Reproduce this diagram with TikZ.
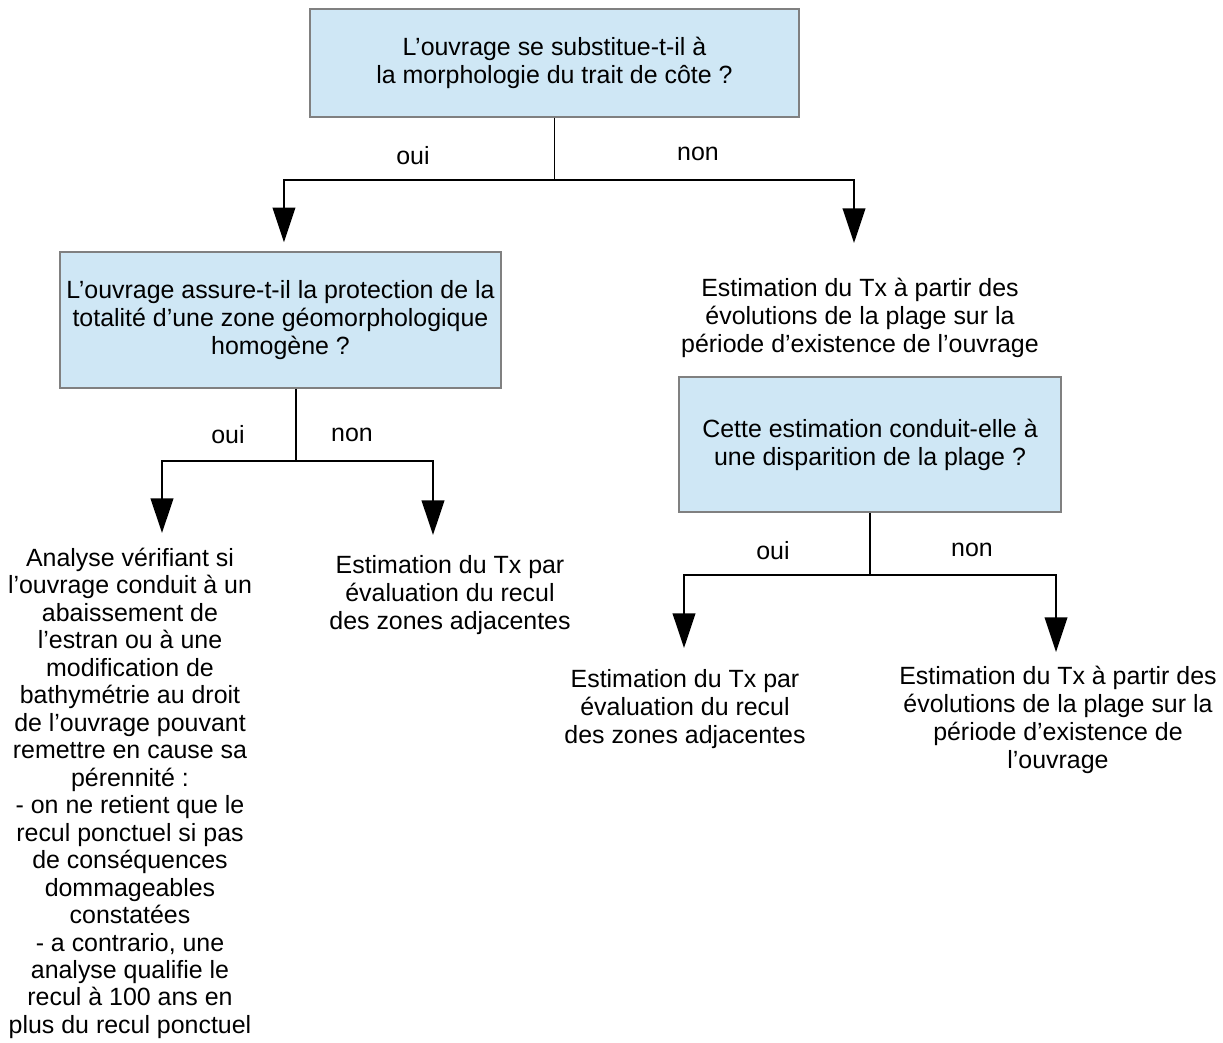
\documentclass[tikz,border=0pt]{standalone}
\usepackage{fontspec}
\setmainfont{Liberation Sans}
\usetikzlibrary{arrows.meta}
\definecolor{boxfill}{HTML}{CFE7F5}
\definecolor{boxline}{HTML}{808080}
\begin{document}
\begin{tikzpicture}[x=0.75pt,y=-0.75pt,
  every node/.style={font=\fontsize{18.7}{21}\selectfont},
  qbox/.style={draw=boxline,line width=1.1pt,fill=boxfill,align=center,inner sep=0pt},
  txt/.style={align=center,inner xsep=0pt,anchor=north},
  lbl/.style={inner sep=0pt},
  conn/.style={line width=1.3pt,draw=black},
  arr/.style={conn,-{Triangle[width=17pt,length=26pt]}}]
\useasboundingbox (0,0) rectangle (1223,1042);

% question boxes
\node[qbox,minimum width=366.75pt,minimum height=81pt] (q1) at (554.5,63)
  {L’ouvrage se substitue-t-il à\\la morphologie du trait de côte ?};
\node[qbox,minimum width=330.75pt,minimum height=102pt] (q2) at (280.5,320)
  {L’ouvrage assure-t-il la protection de la\\totalité d’une zone géomorphologique\\homogène ?};
\node[qbox,minimum width=286.5pt,minimum height=101.25pt] (q3) at (870,444.5)
  {Cette estimation conduit-elle à\\une disparition de la plage ?};

% text nodes
\node[txt,inner ysep=25.5pt] (e1) at (860,243)
  {\strut Estimation du Tx à partir des\\évolutions de la plage sur la\\période d’existence de l’ouvrage};
\node[txt,inner ysep=10.5pt,font=\fontsize{18.7}{20.6}\selectfont] (lA) at (130,533)
  {\strut Analyse vérifiant si\\l’ouvrage conduit à un\\abaissement de\\l’estran ou à une\\modification de\\bathymétrie au droit\\de l’ouvrage pouvant\\remettre en cause sa\\pérennité :\\- on ne retient que le\\recul ponctuel si pas\\de conséquences\\dommageables\\constatées\\- a contrario, une\\analyse qualifie le\\recul à 100 ans en\\plus du recul ponctuel};
\node[txt,inner ysep=14pt] (lB) at (450,535)
  {\strut Estimation du Tx par\\évaluation du recul\\des zones adjacentes};
\node[txt,inner ysep=15pt] (lC) at (685,648)
  {\strut Estimation du Tx par\\évaluation du recul\\des zones adjacentes};
\node[txt,inner ysep=9.5pt] (lD) at (1058,652)
  {\strut Estimation du Tx à partir des\\évolutions de la plage sur la\\période d’existence de\\l’ouvrage};

% labels
\node[lbl] (o1) at (413,156) {oui};
\node[lbl] (n1) at (698,154) {non};
\node[lbl] (o2) at (228,435) {oui};
\node[lbl] (n2) at (352,435) {non};
\node[lbl] (o3) at (773,551) {oui};
\node[lbl] (n3) at (972,550) {non};

% junctions
\coordinate (h1) at (0,180);
\coordinate (j1) at (q1.south |- h1);
\coordinate (j2) at (296,461);
\coordinate (h3) at (0,575);
\coordinate (j3) at (q3.south |- h3);

% connectors
\draw[conn] (q1.south) -- (j1);
\draw[arr,shorten >=6.75pt] (j1) -| ([xshift=2.6pt]q2.north);
\draw[arr] (j1) -| ([xshift=-4.5pt]e1.north);

\draw[conn] (q2.south -| j2) -- (j2);
\draw[arr] (j2) -| ([xshift=24pt]lA.north);
\draw[arr] (j2) -| ([xshift=-12.75pt]lB.north);

\draw[conn] (q3.south) -- (j3);
\draw[arr] (j3) -| ([xshift=-0.75pt]lC.north);
\draw[arr] (j3) -| ([xshift=-1.5pt]lD.north);
\end{tikzpicture}
\end{document}
